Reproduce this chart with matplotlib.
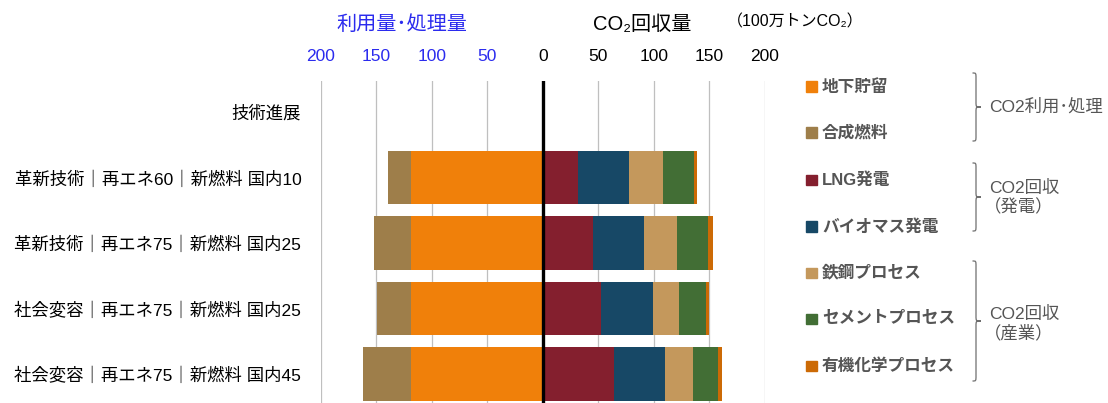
import matplotlib
matplotlib.use('Agg')
import matplotlib.pyplot as plt
from matplotlib.path import Path
from matplotlib.patches import PathPatch, Rectangle

plt.rcParams['font.family'] = ['Liberation Sans', 'Noto Sans CJK JP', 'DejaVu Sans']

# ---- data (100万トンCO2) ----
categories = ['技術進展',
              '革新技術｜再エネ60｜新燃料 国内10',
              '革新技術｜再エネ75｜新燃料 国内25',
              '社会変容｜再エネ75｜新燃料 国内25',
              '社会変容｜再エネ75｜新燃料 国内45']
# left side: utilisation / disposal
storage = [0, 119, 119, 119, 119]     # 地下貯留
synfuel = [0, 20, 33, 30, 43]         # 合成燃料
# right side: capture
lng = [0, 32, 45, 52, 64]             # LNG発電
biomass = [0, 46, 46, 47, 46]         # バイオマス発電
steel = [0, 30, 30, 24, 25]           # 鉄鋼プロセス
cement = [0, 28, 28, 24, 23]          # セメントプロセス
organic = [0, 3, 4, 3, 3]             # 有機化学プロセス

ticks = [-200, -150, -100, -50, 0, 50, 100, 150, 200]

colors = {
    '地下貯留': '#F0800A',
    '合成燃料': '#9E7E4A',
    'LNG発電': '#841F2E',
    'バイオマス発電': '#174866',
    '鉄鋼プロセス': '#C4985C',
    'セメントプロセス': '#426E35',
    '有機化学プロセス': '#CC6A05',
}
BLUE = '#2B2BEE'
GREY = '#555555'

W, H = 1108, 403
fig = plt.figure(figsize=(W / 100, H / 100), dpi=100)


def px(x, y):
    return x / W, 1 - y / H


ax = fig.add_axes([320.7 / W, 0, (765 - 320.7) / W, (403 - 81) / H])

y = list(range(len(categories)))
bh = 0.81

# left stacks (drawn as negative)
ax.barh(y, [-v for v in storage], height=bh, color=colors['地下貯留'], lw=0)
ax.barh(y, [-v for v in synfuel], left=[-v for v in storage], height=bh,
        color=colors['合成燃料'], lw=0)

# right stacks
left = [0] * len(y)
for name, vals in [('LNG発電', lng), ('バイオマス発電', biomass),
                   ('鉄鋼プロセス', steel), ('セメントプロセス', cement),
                   ('有機化学プロセス', organic)]:
    ax.barh(y, vals, left=left, height=bh, color=colors[name], lw=0)
    left = [a + b for a, b in zip(left, vals)]

ax.set_xlim(-200, 200)
ax.set_ylim(4.443, -0.473)
ax.set_xticks(ticks)
ax.grid(axis='x', color='#BFBFBF', lw=0.9)
ax.set_axisbelow(True)
ax.axvline(0, color='black', lw=2.4, zorder=5)
for s in ax.spines.values():
    s.set_visible(False)

ax.xaxis.tick_top()
ax.set_xticklabels([str(abs(t)) for t in ticks], fontsize=12.5)
ax.tick_params(axis='x', length=0, pad=12)
for t, lab in zip(ticks, ax.get_xticklabels()):
    lab.set_color(BLUE if t < 0 else 'black')

ax.set_yticks(y)
ax.set_yticklabels(categories, fontsize=12.5)
ax.tick_params(axis='y', length=0, pad=14)

# headers
fig.text(*px(402, 24), '利用量･処理量', color=BLUE, fontsize=14.5,
         ha='center', va='center')
fig.text(*px(642, 24), 'CO₂回収量', color='black', fontsize=14.5,
         ha='center', va='center')
fig.text(*px(795, 22), '（100万トンCO₂）', color='black', fontsize=11.5,
         ha='center', va='center')

# legend
legend_items = [('地下貯留', 86.7), ('合成燃料', 132.7), ('LNG発電', 180),
                ('バイオマス発電', 226.7), ('鉄鋼プロセス', 273),
                ('セメントプロセス', 319), ('有機化学プロセス', 366)]
for name, ly in legend_items:
    x0, y0 = px(806, ly + 5)
    fig.patches.append(Rectangle((x0, y0), 10.5 / W, 10.5 / H,
                                 transform=fig.transFigure,
                                 color=colors[name]))
    fig.text(*px(822, ly), name, color=GREY, fontsize=12, fontweight='bold',
             ha='left', va='center')


def brace(top, bottom, a=972.5, b=976, c=981, r=5):
    mid = (top + bottom) / 2
    pts = [(a, top), (b, top), (b, top), (b, top + r),
           (b, mid - r), (b, mid), (b, mid), (c, mid),
           (b, mid), (b, mid), (b, mid + r),
           (b, bottom - r), (b, bottom), (b, bottom), (a, bottom)]
    codes = [Path.MOVETO, Path.CURVE4, Path.CURVE4, Path.CURVE4,
             Path.LINETO, Path.CURVE4, Path.CURVE4, Path.CURVE4,
             Path.CURVE4, Path.CURVE4, Path.CURVE4,
             Path.LINETO, Path.CURVE4, Path.CURVE4, Path.CURVE4]
    path = Path([px(*p) for p in pts], codes)
    fig.patches.append(PathPatch(path, transform=fig.transFigure,
                                 fill=False, ec='#6E6E6E', lw=0.9))


brace(73, 141)
brace(163, 231)
brace(261, 381)

fig.text(*px(989, 106), 'CO2利用･処理', color=GREY, fontsize=12.5,
         ha='left', va='center')
fig.text(*px(989, 188), 'CO2回収', color=GREY, fontsize=12.5,
         ha='left', va='center')
fig.text(*px(984, 207), '（発電）', color=GREY, fontsize=12.5,
         ha='left', va='center')
fig.text(*px(989, 314), 'CO2回収', color=GREY, fontsize=12.5,
         ha='left', va='center')
fig.text(*px(984, 333), '（産業）', color=GREY, fontsize=12.5,
         ha='left', va='center')

fig.savefig('out.png', dpi=100)
